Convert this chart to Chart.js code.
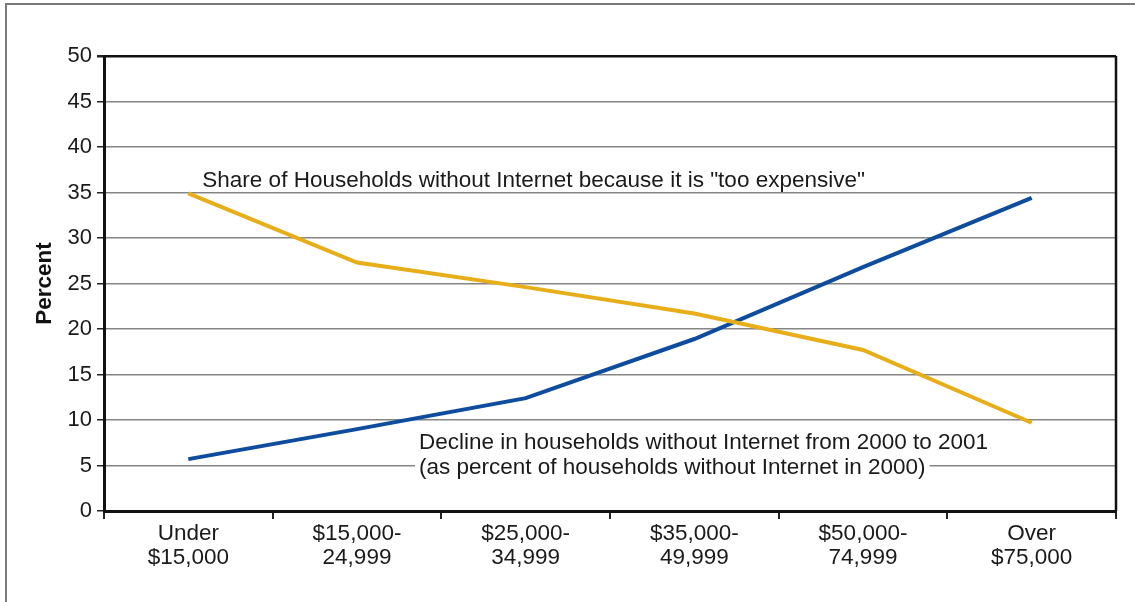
<!DOCTYPE html>
<html>
<head>
<meta charset="utf-8">
<script src="https://cdn.jsdelivr.net/npm/chart.js@4.4.1/dist/chart.umd.min.js"></script>
<style>
  html, body { margin: 0; padding: 0; background: #fff; }
  canvas { display: block; }
</style>
</head>
<body>
<canvas id="chart" width="1135" height="602"></canvas>
<script>
// income brackets (x axis)
const incomeLabels = [
  ['Under', '$15,000'],
  ['$15,000-', '24,999'],
  ['$25,000-', '34,999'],
  ['$35,000-', '49,999'],
  ['$50,000-', '74,999'],
  ['Over', '$75,000']
];

// share of households without internet because it is "too expensive"
const tooExpensive = [34.9, 27.3, 24.6, 21.7, 17.7, 9.7];

// decline in households without internet 2000 -> 2001
const declineShare = [5.7, 9.0, 12.4, 18.9, 26.8, 34.4];

const yMin = 0;
const yMax = 50;
const yStep = 5;

const seriesText = {
  expensive: 'Share of Households without Internet because it is "too expensive"',
  decline1: 'Decline in households without Internet from 2000 to 2001',
  decline2: '(as percent of households without Internet in 2000)'
};

const FONT = '"Liberation Sans", Arial, Helvetica, sans-serif';
const SIZE = 22.5;

// grey page frame + plot frame on the right
const framePlugin = {
  id: 'frame',
  beforeDraw(chart) {
    const ctx = chart.ctx;
    ctx.save();
    ctx.fillStyle = '#fff';
    ctx.fillRect(0, 0, chart.width, chart.height);
    ctx.strokeStyle = '#7a7a7a';
    ctx.lineWidth = 2;
    ctx.beginPath();
    ctx.moveTo(6, chart.height);
    ctx.lineTo(6, 4);
    ctx.lineTo(chart.width, 4);
    ctx.stroke();
    ctx.restore();
  },
  afterDraw(chart) {
    const { ctx, chartArea } = chart;
    ctx.save();
    ctx.strokeStyle = '#111';
    ctx.lineWidth = 2.5;
    ctx.beginPath();
    ctx.moveTo(chartArea.right, chartArea.top);
    ctx.lineTo(chartArea.right, chartArea.bottom);
    ctx.stroke();
    ctx.restore();
  }
};

// the two in-chart labels
const labelPlugin = {
  id: 'seriesLabels',
  afterDatasetsDraw(chart) {
    const { ctx } = chart;
    const xs = chart.scales.x;
    const ys = chart.scales.y;
    ctx.save();
    ctx.font = SIZE + 'px ' + FONT;
    ctx.fillStyle = '#1a1a1a';
    ctx.textAlign = 'left';
    ctx.textBaseline = 'alphabetic';

    ctx.fillText(seriesText.expensive, xs.getPixelForValue(0) + 14, ys.getPixelForValue(35) - 6);

    const x2 = xs.getPixelForValue(1) + 62;
    const y5 = ys.getPixelForValue(5);
    ctx.fillText(seriesText.decline1, x2, y5 - 17);

    const w = ctx.measureText(seriesText.decline2).width;
    ctx.fillStyle = '#fff';
    ctx.fillRect(x2 - 4, y5 - 11, w + 8, 22);
    ctx.fillStyle = '#1a1a1a';
    ctx.fillText(seriesText.decline2, x2, y5 + 8);
    ctx.restore();
  }
};

new Chart(document.getElementById('chart'), {
  type: 'line',
  data: {
    labels: incomeLabels,
    datasets: [
      {
        label: 'Too expensive',
        data: tooExpensive,
        borderColor: '#E7AE1A',
        borderWidth: 4,
        pointRadius: 0,
        tension: 0,
        fill: false
      },
      {
        label: 'Decline',
        data: declineShare,
        borderColor: '#0E4C9D',
        borderWidth: 4,
        pointRadius: 0,
        tension: 0,
        fill: false
      }
    ]
  },
  options: {
    responsive: false,
    animation: false,
    devicePixelRatio: 1,
    layout: { padding: { left: 0, top: 56, right: 19, bottom: 0 } },
    plugins: {
      legend: { display: false },
      tooltip: { enabled: false }
    },
    scales: {
      x: {
        offset: true,
        grid: {
          offset: true,
          drawOnChartArea: false,
          drawTicks: true,
          tickLength: 8,
          color: '#222',
          lineWidth: 2
        },
        border: { display: true, color: '#111', width: 3 },
        ticks: {
          font: { family: FONT, size: SIZE, lineHeight: 1.07 },
          color: '#1a1a1a',
          padding: 3,
          maxRotation: 0,
          autoSkip: false
        },
        afterFit(scale) { scale.height = 91; }
      },
      y: {
        min: yMin,
        max: yMax,
        ticks: {
          stepSize: yStep,
          font: { family: FONT, size: 22 },
          color: '#1a1a1a',
          padding: 5
        },
        grid: {
          color: c => (c.tick && c.tick.value === yMax ? '#111' : '#858585'),
          lineWidth: c => (c.tick && c.tick.value === yMax ? 2.5 : 1.5),
          tickColor: '#222',
          tickLength: 7
        },
        border: { display: true, color: '#111', width: 3 },
        title: {
          display: true,
          text: 'Percent',
          color: '#111',
          font: { family: FONT, size: SIZE, weight: 'bold' },
          padding: { top: 31, bottom: 0 }
        },
        afterFit(scale) { scale.width = 104; }
      }
    }
  },
  plugins: [framePlugin, labelPlugin]
});
</script>
</body>
</html>
